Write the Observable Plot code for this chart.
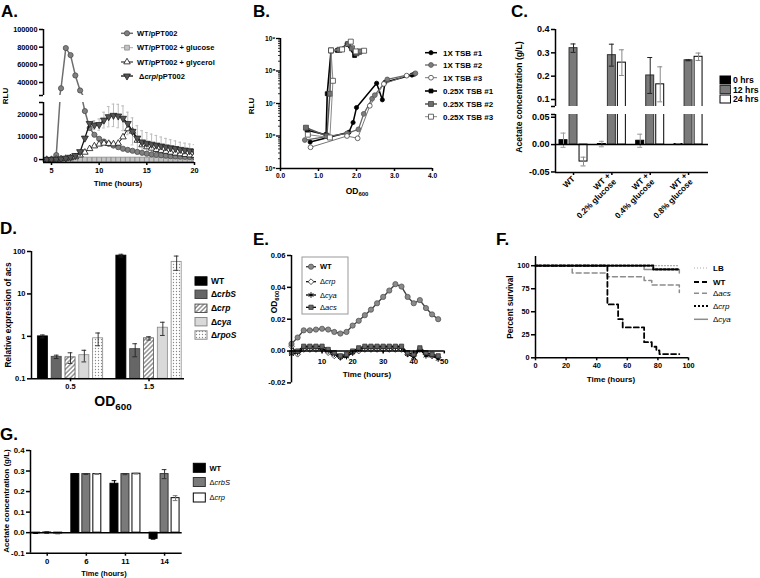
<!DOCTYPE html>
<html><head><meta charset="utf-8">
<script src="https://cdn.jsdelivr.net/npm/d3@7"></script>
<script src="https://cdn.jsdelivr.net/npm/@observablehq/plot@0.6"></script>
<style>
html,body{margin:0;padding:0;background:#fff;}
#fig{position:relative;width:760px;height:578px;overflow:hidden;background:#fff;}
</style></head>
<body><div id="fig"></div>
<script>
// ================= DATA =================
// Panel A: RLU vs time
const timeA = [4.5,5,5.5,6,6.5,7,7.5,8,8.5,9,9.5,10,10.5,11,11.5,12,12.5,13,13.5,14,14.5,15,15.5,16,16.5,17,17.5,18,18.5,19,19.5,20];
const rluWT = [0,100,2000,33500,79000,71000,48000,31000,21500,14000,11000,9200,8000,7000,6200,5500,4800,4300,3900,3400,3000,2600,2300,2100,1900,1700,1500,1400,1300,1200,1100,1000];
const rluGlucose = [0,0,0,0,0,0,0,0,0,0,0,0,0,0,0,0,0,0,0,0,0,0,0,0,0,0,0,0,0,0,0,0];
const rluGlycerol = [0,0,100,300,500,800,1200,2000,3200,4800,6000,6800,7200,7100,6900,7200,10000,13600,12500,8500,6500,5600,5000,4400,4000,3600,3200,2800,2500,2200,2000,1800];
const rluCrp = [0,0,100,300,600,1000,1800,3500,9500,16000,15300,15500,17500,19000,19600,19300,18300,16000,12500,9500,7800,7200,6800,6400,6000,5600,5200,4900,4500,4200,3900,3600];
const errCrp = [0,0,0,0,0,0,0,0,0,0,2000,2500,3500,4500,5000,5200,5500,5000,6000,5500,5000,4800,4500,4300,4000,3800,3600,3400,3200,3100,3000,3000];
const legendA = ["WT/pPT002","WT/pPT002 + glucose","WT/pPT002 + glycerol","Δcrp/pPT002"];
const ticksAx = [5,10,15,20], ticksAlow = [0,10000,20000], ticksAup = [40000,60000,80000,100000];

// Panel B: RLU vs OD600 (log)
const od1x1 = [0.78,1.80,1.91,2.00,2.53,2.68,2.75,3.46,3.52];
const rlu1x1 = [6.5e5,1.3e6,2.6e6,7.5e6,4.2e7,1.3e7,4.5e7,7.5e7,8.0e7];
const od1x2 = [0.64,1.75,2.05,2.19,2.41,2.48,2.81,3.55];
const rlu1x2 = [7.5e5,1.2e6,1.6e6,4.8e6,1.4e7,1.8e7,5.5e7,8.5e7];
const od1x3 = [0.79,1.75,2.03,2.35,2.72,3.32];
const rlu1x3 = [4.5e5,1.0e6,8.5e5,8.5e6,4.0e7,7.2e7];
const odQ1 = [0.70,1.20,1.23,1.33,1.50,1.75,1.95,2.08];
const rluQ1 = [1.5e6,1.1e6,2.0e7,4.2e8,4.3e8,6.5e8,3.0e8,3.8e8];
const odQ2 = [0.67,1.22,1.30,1.33,1.55,1.78,1.88,2.00,2.08];
const rluQ2 = [1.8e6,1.0e6,2.0e7,4.3e8,4.5e8,6.8e8,5.0e8,3.5e8,4.0e8];
const odQ3 = [0.72,1.30,1.38,1.33,1.62,1.85,1.98,2.20];
const rluQ3 = [1.1e6,9.0e5,5.0e7,4.3e8,4.6e8,8.0e8,4.0e8,4.2e8];
const legendB = ["1X TSB #1","1X TSB #2","1X TSB #3","0.25X TSB #1","0.25X TSB #2","0.25X TSB #3"];
const ticksBx = [0,1,2,3,4], ticksBy = [1e5,1e6,1e7,1e8,1e9];

// Panel C: acetate with glucose
const cConds = ["WT","WT +\n0.2% glucose","WT +\n0.4% glucose","WT +\n0.8% glucose"];
const cTimes = ["0 hrs","12 hrs","24 hrs"];
const acet0h = [0.008,0.001,0.007,0.001], err0h = [0.013,0.005,0.012,0.001];
const acet12h = [0.320,0.290,0.203,0.268], err12h = [0.018,0.047,0.077,0.002];
const acet24h = [-0.031,0.258,0.165,0.283], err24h = [0.008,0.055,0.075,0.016];
const ticksCup = [0.1,0.2,0.3,0.4], ticksClow = [-0.05,0,0.05];

// Panel D: relative expression of acs
const dOD = ["0.5","1.5"];
const dStrains = ["WT","ΔcrbS","Δcrp","Δcya","ΔrpoS"];
const exprWT = [1.0,80], errExprWT = [0.08,6];
const exprCrbS = [0.33,0.5], errExprCrbS = [0.03,0.17];
const exprCrp = [0.32,0.9], errExprCrp = [0.09,0.08];
const exprCya = [0.36,1.6], errExprCya = [0.11,0.55];
const exprRpoS = [0.9,57], errExprRpoS = [0.3,21];
const ticksDy = [0.1,1,10,100];

// Panel E: OD600 over time
const timeE = [0,2,4,6,8,10,12,14,16,18,20,22,24,26,28,30,32,34,36,38,40,42,44,46,48];
const odEWT = [0.0045,0.0085,0.013,0.013,0.0135,0.014,0.0135,0.012,0.011,0.012,0.016,0.019,0.0225,0.026,0.030,0.034,0.038,0.042,0.0405,0.034,0.030,0.032,0.027,0.023,0.020];
const odECrp = [0.003,-0.002,0.001,0.001,0.001,0.001,-0.001,-0.003,-0.004,-0.003,-0.001,0.000,0.001,0.001,0.001,0.001,0.001,0.001,0.001,-0.002,-0.003,0.001,-0.002,-0.003,-0.004];
const odECya = [-0.002,-0.001,0.002,0.002,0.002,0.0015,0.000,-0.002,-0.004,-0.0035,-0.001,0.001,0.002,0.002,0.002,0.002,0.002,0.002,0.002,-0.002,-0.004,0.001,-0.003,-0.003,-0.005];
const odEAcs = [-0.001,0.000,0.003,0.003,0.003,0.003,0.001,-0.001,-0.003,-0.002,0.000,0.002,0.003,0.003,0.003,0.003,0.003,0.003,0.003,-0.001,-0.002,0.002,-0.001,-0.002,-0.003];
const ticksEx = [10,20,30,40,50], ticksEy = [-0.02,0,0.02,0.04,0.06];

// Panel F: survival
const fTimeLB = [0,94], fSurvLB = [100,100];
const fTimeWT = [0,47,54,57,71,76,79,81,94], fSurvWT = [100,58,42,33,17,12,8,4,4];
const fTimeAcs = [0,24,47,71,76,94], fSurvAcs = [100,92,88,84,79,71];
const fTimeCrp = [0,77,94], fSurvCrp = [100,96,96];
const fTimeCya = [0,71,94], fSurvCya = [100,96,92];
const ticksFx = [0,20,40,60,80,100], ticksFy = [0,25,50,75,100];

// Panel G: acetate over time
const gTimes = ["0","6","11","14"];
const gAcetWT = [-0.003,0.285,0.238,-0.030], gErrWT = [0.001,0.002,0.015,0.002];
const gAcetCrbS = [0.001,0.285,0.285,0.285], gErrCrbS = [0.004,0.002,0.003,0.022];
const gAcetCrp = [-0.004,0.285,0.287,0.168], gErrCrp = [0.002,0.002,0.002,0.012];
const ticksGy = [-0.1,0,0.1,0.2,0.3,0.4];

// ================= HELPERS =================
const FONT = '"Liberation Sans", Arial, Helvetica, sans-serif';
const fig = document.getElementById("fig");
const BLK = "#000";

function mk({x0, x1, y0, y1, fs = 7.5, x, y, marks}) {
  const m = 60;
  const svg = Plot.plot({
    width: x1 - x0 + 2 * m, height: y1 - y0 + 2 * m,
    marginLeft: m, marginRight: m, marginTop: m, marginBottom: m,
    x: Object.assign({axis: null}, x), y: Object.assign({axis: null}, y),
    style: {fontFamily: FONT, fontSize: fs + "px", fontWeight: "bold", background: "transparent", overflow: "visible", color: "#000"},
    marks
  });
  svg.style.position = "absolute";
  svg.style.left = (x0 - m) + "px";
  svg.style.top = (y0 - m) + "px";
  fig.appendChild(svg);
  return svg;
}
const rowsOf = (xs, ys, es) => xs.map((x, i) => ({x, y: ys[i], e: es ? es[i] : 0}));
function errBars(rows, xf, {stroke = "#000", cap = 0.1, sw = 1, clip = false} = {}) {
  const r = rows.filter(d => d.e > 0);
  return [
    Plot.ruleX(r, {x: xf, y1: d => d.y - d.e, y2: d => d.y + d.e, stroke, strokeWidth: sw, clip}),
    Plot.ruleY(r, {y: d => d.y + d.e, x1: d => xf(d) - cap, x2: d => xf(d) + cap, stroke, strokeWidth: sw, clip}),
    Plot.ruleY(r, {y: d => d.y - d.e, x1: d => xf(d) - cap, x2: d => xf(d) + cap, stroke, strokeWidth: sw, clip})
  ];
}
function lineDots(series, clip = false, curve = "linear") {
  const out = [];
  for (const s of series) {
    out.push(Plot.line(s.rows, {x: "x", y: "y", stroke: s.line, strokeWidth: s.lw, clip, curve}));
    if (s.sym) out.push(Plot.dot(s.rows, {x: "x", y: "y", symbol: s.sym, r: s.r, fill: s.fill, stroke: s.stroke, strokeWidth: s.sw || 0.8, clip}));
  }
  return out;
}
const triDown = {draw(c, size) { const y = -Math.sqrt(size / (Math.sqrt(3) * 3)); c.moveTo(0, -2 * y); c.lineTo(-Math.sqrt(3) * y, y); c.lineTo(Math.sqrt(3) * y, y); c.closePath(); }};
const axisLine = v => Plot.ruleX([v], {stroke: BLK, strokeWidth: 1.5});
const baseLine = v => Plot.ruleY([v], {stroke: BLK, strokeWidth: 1.5});

// ================= PANEL A =================
const sA = [
  {rows: rowsOf(timeA, rluGlucose), line: "#aaa", lw: 1, sym: "square", r: 2.7, fill: "#c4c4c4", stroke: "#8a8a8a"},
  {rows: rowsOf(timeA, rluWT), line: "#6e6e6e", lw: 1.5, sym: "circle", r: 2.6, fill: "#808080", stroke: "#4d4d4d"},
  {rows: rowsOf(timeA, rluGlycerol), line: "#111", lw: 1, sym: "triangle", r: 2.4, fill: "#fff", stroke: "#111"},
  {rows: rowsOf(timeA, rluCrp, errCrp), line: "#111", lw: 1.3, sym: triDown, r: 2.6, fill: "#555", stroke: "#222"}
];
const xA = {domain: [4.16, 20]};
mk({x0: 43, x1: 194, y0: 102, y1: 162, fs: 7.3, x: xA, y: {domain: [-1300, 25300]}, marks: [
  ...errBars(sA[3].rows, d => d.x, {stroke: "#bdbdbd", cap: 0.14, sw: 1, clip: true}),
  ...lineDots(sA, true),
  axisLine(4.16), baseLine(-1300),
  Plot.axisX({ticks: ticksAx, tickSize: 3, tickPadding: 2, strokeWidth: 1.5, label: null}),
  Plot.axisY({ticks: ticksAlow, tickSize: 4, tickPadding: 2, strokeWidth: 1.5, tickFormat: d => String(d), label: null}),
  Plot.axisY({ticks: [25300], tickSize: 4, strokeWidth: 1.5, tickFormat: () => "", label: null})
]});
mk({x0: 43, x1: 194, y0: 29, y1: 95, fs: 7.3, x: xA, y: {domain: [25300, 100000]}, marks: [
  ...lineDots([sA[1]], true),
  axisLine(4.16),
  Plot.axisY({ticks: ticksAup, tickSize: 4, tickPadding: 2, strokeWidth: 1.5, tickFormat: d => String(d), label: null}),
  Plot.axisY({ticks: [25300], tickSize: 4, strokeWidth: 1.5, tickFormat: () => "", label: null})
]});

// ================= PANEL B =================
const sB = [
  {rows: rowsOf(od1x1, rlu1x1), line: "#000", lw: 1.5, sym: "circle", r: 2.1, fill: "#000", stroke: "#000"},
  {rows: rowsOf(od1x2, rlu1x2), line: "#666", lw: 1.3, sym: "circle", r: 2.4, fill: "#7d7d7d", stroke: "#555"},
  {rows: rowsOf(od1x3, rlu1x3), line: "#777", lw: 1, sym: "circle", r: 2.4, fill: "#fff", stroke: "#444"},
  {rows: rowsOf(odQ1, rluQ1), line: "#000", lw: 1.6, sym: "square", r: 2.2, fill: "#000", stroke: "#000"},
  {rows: rowsOf(odQ2, rluQ2), line: "#555", lw: 1.5, sym: "square", r: 2.8, fill: "#6e6e6e", stroke: "#444"},
  {rows: rowsOf(odQ3, rluQ3), line: "#888", lw: 1, sym: "square", r: 2.8, fill: "#fff", stroke: "#444"}
];
const sup = {5: "⁵", 6: "⁶", 7: "⁷", 8: "⁸", 9: "⁹"};
const minorB = [];
for (let k = 5; k < 9; k++) for (let m = 2; m < 10; m++) minorB.push(m * Math.pow(10, k));
mk({x0: 280, x1: 432, y0: 38, y1: 168, fs: 6.6, x: {domain: [0, 4]}, y: {type: "log", domain: [1e5, 1e9]}, marks: [
  ...lineDots(sB, true),
  axisLine(0), baseLine(1e5),
  Plot.axisX({ticks: ticksBx, tickSize: 3, tickPadding: 2, strokeWidth: 1.5, label: null}),
  Plot.axisY({ticks: ticksBy, tickSize: 4, tickPadding: 1, strokeWidth: 1.3, tickFormat: d => "10" + sup[Math.round(Math.log10(d))], label: null}),
  Plot.axisY({ticks: minorB, tickSize: 2, strokeWidth: 0.8, tickFormat: () => "", label: null})
]});

// ================= PANEL C =================
const cVals = [acet0h, acet12h, acet24h], cErrs = [err0h, err12h, err24h];
const cFill = ["#000", "#7a7a7a", "#fff"], cStroke = ["#000", "#333", "#000"], cErrStroke = ["#999", "#222", "#888"];
const cRows = cTimes.map((t, s) => cConds.map((c, g) => ({g, s, y: cVals[s][g], e: cErrs[s][g]})));
const cx = d => d.g + (d.s - 1) * 0.261, cHW = 0.104;
const cBars = clip => cRows.flatMap((rows, s) => [
  Plot.rect(rows, {x1: d => cx(d) - cHW, x2: d => cx(d) + cHW, y1: () => 0, y2: "y", fill: cFill[s], stroke: cStroke[s], strokeWidth: 1, clip}),
  ...errBars(rows, cx, {stroke: cErrStroke[s], cap: 0.065, sw: 1, clip})
]);
const xC = {domain: [-0.47, 3.52]};
mk({x0: 555, x1: 708, y0: 29, y1: 106, fs: 9, x: xC, y: {domain: [0.07, 0.4]}, marks: [
  ...cBars(true),
  axisLine(-0.47),
  Plot.axisY({ticks: ticksCup, tickSize: 4, tickPadding: 2, strokeWidth: 1.5, tickFormat: d => d.toFixed(1), label: null}),
  Plot.axisY({ticks: [0.07], tickSize: 4, strokeWidth: 1.5, tickFormat: () => "", label: null})
]});
mk({x0: 555, x1: 708, y0: 114, y1: 172, fs: 9, x: xC, y: {domain: [-0.051, 0.055]}, marks: [
  ...cBars(true),
  axisLine(-0.47), baseLine(0), baseLine(-0.051),
  Plot.axisY({ticks: ticksClow, tickSize: 4, tickPadding: 2, strokeWidth: 1.5, tickFormat: d => d.toFixed(2), label: null}),
  Plot.axisY({ticks: [0.055], tickSize: 4, strokeWidth: 1.5, tickFormat: () => "", label: null}),
  Plot.axisX({ticks: [0, 1, 2, 3], tickSize: 3, tickPadding: 2, strokeWidth: 1.5, tickRotate: -45, fontSize: 8.2, tickFormat: i => cConds[i], label: null})
]});

// ================= PANEL D =================
const dVals = [exprWT, exprCrbS, exprCrp, exprCya, exprRpoS], dErrs = [errExprWT, errExprCrbS, errExprCrp, errExprCya, errExprRpoS];
const dFill = ["#000", "#666", "url(#hatch)", "#d9d9d9", "url(#dots)"], dStroke = ["#000", "#444", "#555", "#888", "#888"];
const dRows = dStrains.map((n, s) => dOD.map((o, g) => ({g, s, y: dVals[s][g], e: dErrs[s][g]})));
const dx = d => d.g + (d.s - 2) * 0.176, dHW = 0.064;
mk({x0: 31, x1: 184, y0: 250.7, y1: 378, fs: 7.5, x: {domain: [-0.497, 1.452]}, y: {type: "log", domain: [0.1, 100]}, marks: [
  ...dRows.flatMap((rows, s) => [
    Plot.rect(rows, {x1: d => dx(d) - dHW, x2: d => dx(d) + dHW, y1: () => 0.1, y2: "y", fill: dFill[s], stroke: dStroke[s], strokeWidth: 0.8}),
    ...errBars(rows, dx, {stroke: "#222", cap: 0.03, sw: 0.9})
  ]),
  axisLine(-0.497), baseLine(0.1),
  Plot.axisX({ticks: [0, 1], tickSize: 3, tickPadding: 2, strokeWidth: 1.5, tickFormat: i => dOD[i], label: null}),
  Plot.axisY({ticks: ticksDy, tickSize: 4, tickPadding: 2, strokeWidth: 1.5, tickFormat: d => String(d), label: null})
]});

// ================= PANEL E =================
const sE = [
  {rows: rowsOf(timeE, odECrp), line: "#000", lw: 1.2, sym: "diamond2", r: 2.6, fill: "#fff", stroke: "#222"},
  {rows: rowsOf(timeE, odECya), line: "#000", lw: 1.3, sym: "asterisk", r: 2.6, fill: "none", stroke: "#000", sw: 1},
  {rows: rowsOf(timeE, odEAcs), line: "#000", lw: 1.3, sym: "square", r: 2.4, fill: "#666", stroke: "#333"},
  {rows: rowsOf(timeE, odEWT), line: "#444", lw: 1.4, sym: "circle", r: 2.6, fill: "#8a8a8a", stroke: "#555"}
];
mk({x0: 290.5, x1: 443.3, y0: 255.3, y1: 382.7, fs: 7.6, x: {domain: [0, 50]}, y: {domain: [-0.02, 0.06]}, marks: [
  ...lineDots(sE),
  axisLine(0), baseLine(0),
  Plot.ruleX(ticksEx, {x: d => d, y1: () => 0, y2: () => -0.0018, stroke: BLK, strokeWidth: 1.5}),
  Plot.text(ticksEx, {x: d => d, y: () => 0, dy: 10.5, text: d => String(d)}),
  Plot.axisY({ticks: ticksEy, tickSize: 4, tickPadding: 2, strokeWidth: 1.5, tickFormat: d => d.toFixed(2), label: null})
]});

// ================= PANEL F =================
const sF = [
  {rows: rowsOf(fTimeLB, fSurvLB), line: "#aaa", lw: 1.2, dash: "1,2"},
  {rows: rowsOf(fTimeCya, fSurvCya), line: "#8c8c8c", lw: 1.5, dash: null},
  {rows: rowsOf(fTimeAcs, fSurvAcs), line: "#8c8c8c", lw: 1.5, dash: "5,3"},
  {rows: rowsOf(fTimeWT, fSurvWT), line: "#000", lw: 1.8, dash: "5,3"},
  {rows: rowsOf(fTimeCrp, fSurvCrp), line: "#000", lw: 2.2, dash: "2,2"}
];
mk({x0: 535, x1: 688, y0: 256, y1: 357.3, fs: 7.3, x: {domain: [0, 100]}, y: {domain: [0, 110]}, marks: [
  ...sF.map(s => Plot.line(s.rows, {x: "x", y: "y", curve: "step-after", stroke: s.line, strokeWidth: s.lw, strokeDasharray: s.dash})),
  axisLine(0), baseLine(0),
  Plot.axisX({ticks: ticksFx, tickSize: 3, tickPadding: 2, strokeWidth: 1.5, label: null}),
  Plot.axisY({ticks: ticksFy, tickSize: 4, tickPadding: 2, strokeWidth: 1.5, label: null})
]});

// ================= PANEL G =================
const gVals = [gAcetWT, gAcetCrbS, gAcetCrp], gErrs = [gErrWT, gErrCrbS, gErrCrp];
const gFill = ["#000", "#7a7a7a", "#fff"], gStroke = ["#000", "#333", "#000"], gErrStroke = ["#000", "#333", "#777"];
const gRows = gVals.map((v, s) => gTimes.map((t, g) => ({g, s, y: v[g], e: gErrs[s][g]})));
const gx = d => d.g + (d.s - 1) * 0.281, gHW = 0.102;
mk({x0: 30, x1: 181.7, y0: 450, y1: 552.7, fs: 7.8, x: {domain: [-0.427, 3.45]}, y: {domain: [-0.1, 0.4]}, marks: [
  ...gRows.flatMap((rows, s) => [
    Plot.rect(rows, {x1: d => gx(d) - gHW, x2: d => gx(d) + gHW, y1: () => 0, y2: "y", fill: gFill[s], stroke: gStroke[s], strokeWidth: 1}),
    ...errBars(rows, gx, {stroke: gErrStroke[s], cap: 0.06, sw: 1})
  ]),
  axisLine(-0.427), baseLine(0), baseLine(-0.1),
  Plot.axisX({ticks: [0, 1, 2, 3], tickSize: 3, tickPadding: 2, strokeWidth: 1.5, tickFormat: i => gTimes[i], label: null}),
  Plot.axisY({ticks: ticksGy, tickSize: 4, tickPadding: 2, strokeWidth: 1.5, tickFormat: d => d.toFixed(1), label: null})
]});

// ================= OVERLAY: letters, titles, legends =================
const ov = d3.select(fig).append("svg").attr("width", 760).attr("height", 578)
  .style("position", "absolute").style("left", "0px").style("top", "0px")
  .attr("font-family", FONT);
const defs = ov.append("defs");
const ph = defs.append("pattern").attr("id", "hatch").attr("patternUnits", "userSpaceOnUse").attr("width", 3.2).attr("height", 3.2).attr("patternTransform", "rotate(45)");
ph.append("rect").attr("width", 3.2).attr("height", 3.2).attr("fill", "#fff");
ph.append("line").attr("x1", 0.8).attr("y1", 0).attr("x2", 0.8).attr("y2", 3.2).attr("stroke", "#777").attr("stroke-width", 1.2);
const pd = defs.append("pattern").attr("id", "dots").attr("patternUnits", "userSpaceOnUse").attr("width", 3).attr("height", 3);
pd.append("rect").attr("width", 3).attr("height", 3).attr("fill", "#fff");
pd.append("circle").attr("cx", 1.5).attr("cy", 1.5).attr("r", 0.65).attr("fill", "#888");

function T(x, y, parts, o = {}) {
  const fs = o.fs || 8;
  const t = ov.append("text").attr("x", x).attr("y", y + 0.36 * fs)
    .attr("font-size", fs).attr("font-weight", o.weight || "bold").attr("text-anchor", o.anchor || "start").attr("fill", "#000");
  if (o.rot) t.attr("transform", `rotate(${o.rot},${x},${y})`);
  for (const p of [].concat(parts)) {
    const obj = typeof p === "object" ? p : {t: p};
    const s = t.append("tspan").text(obj.t);
    if (obj.i) s.attr("font-style", "italic");
    if (obj.w) s.attr("font-weight", obj.w);
    if (obj.sub) s.attr("font-size", fs * 0.7).attr("dy", fs * 0.28);
  }
}
function L(x, yBase, s) { ov.append("text").attr("x", x).attr("y", yBase).attr("font-size", 17).attr("font-weight", "bold").text(s); }
function seg(x1, x2, y, stroke, sw, dash) { const l = ov.append("line").attr("x1", x1).attr("x2", x2).attr("y1", y).attr("y2", y).attr("stroke", stroke).attr("stroke-width", sw); if (dash) l.attr("stroke-dasharray", dash); }
const symMap = {circle: d3.symbolCircle, square: d3.symbolSquare, triangle: d3.symbolTriangle, diamond2: d3.symbolDiamond2, asterisk: d3.symbolAsterisk};
function sym(x, y, s) { const type = typeof s.sym === "string" ? symMap[s.sym] : s.sym; ov.append("path").attr("transform", `translate(${x},${y})`).attr("d", d3.symbol(type, Math.PI * s.r * s.r)()).attr("fill", s.fill).attr("stroke", s.stroke).attr("stroke-width", s.sw || 0.8); }
function box(x, y, w, h, fill, stroke) { ov.append("rect").attr("x", x).attr("y", y).attr("width", w).attr("height", h).attr("fill", fill).attr("stroke", stroke).attr("stroke-width", 1); }

// Letters
L(1, 16.8, "A."); L(253, 16.8, "B."); L(511, 16.8, "C.");
L(0, 234, "D."); L(253, 244.5, "E."); L(496, 244.5, "F."); L(0, 440, "G.");

// Panel A titles + legend
T(118, 183, "Time (hours)", {fs: 8, anchor: "middle"});
T(5, 96, "RLU", {fs: 8, anchor: "middle", rot: -90});
const legARows = [33.3, 47.7, 62, 76];
const legAParts = [[legendA[0]], [legendA[1]], [legendA[2]], ["Δ", {t: "crp", i: 1}, "/pPT002"]];
const legAOrder = [1, 0, 2, 3];
legARows.forEach((y, i) => { const s = sA[legAOrder[i]]; seg(121, 133, y, s.line, s.lw); sym(127, y, s); T(i === 3 ? 139 : 137, y, legAParts[i], {fs: 7.5}); });

// Panel B titles + legend
T(251, 106, "RLU", {fs: 8, anchor: "middle", rot: -90});
T(357, 191, ["OD", {t: "600", sub: 1}], {fs: 8.5, anchor: "middle"});
const legBRows = [52.7, 65, 77.7, 91, 104, 116.7];
legBRows.forEach((y, i) => { const s = sB[i]; seg(425, 437, y, s.line, s.lw); sym(431, y, s); T(443, y, legendB[i], {fs: 8}); });

// Panel C titles + legend
T(519, 97, "Acetate concentration (g/L)", {fs: 8.6, anchor: "middle", rot: -90});
[80, 89.5, 99].forEach((y, i) => { box(720, y - 4, 10.5, 8, cFill[i], cStroke[i]); T(733, y, cTimes[i], {fs: 8.7}); });

// Panel D titles + legend
T(8, 315, "Relative expression of acs", {fs: 8.4, anchor: "middle", rot: -90});
T(113, 401, ["OD", {t: "600", sub: 1}], {fs: 14, anchor: "middle"});
const legDParts = [["WT"], ["Δ", {t: "crbS", i: 1}], ["Δ", {t: "crp", i: 1}], ["Δ", {t: "cya", i: 1}], ["Δ", {t: "rpoS", i: 1}]];
[281, 294.3, 308.3, 321.7, 335].forEach((y, i) => { box(195, y - 4.2, 12, 8.4, dFill[i], dStroke[i]); T(211, y, legDParts[i], {fs: 8.5}); });

// Panel E titles + legend
T(274, 302, ["OD", {t: "600", sub: 1}], {fs: 8.4, anchor: "middle", rot: -90});
T(367, 374, "Time (hours)", {fs: 8, anchor: "middle"});
box(302, 257, 46, 57, "none", "#999");
const legEParts = [["WT"], ["Δ", {t: "crp", i: 1, w: "normal"}], ["Δ", {t: "cya", i: 1, w: "normal"}], ["Δ", {t: "acs", i: 1, w: "normal"}]];
const legEOrder = [3, 0, 1, 2];
[266.7, 281.7, 295, 307.3].forEach((y, i) => { const s = sE[legEOrder[i]]; seg(306, 316, y, s.line, s.lw); sym(311, y, s); T(320, y, legEParts[i], {fs: 7.5, weight: i === 0 ? "bold" : "normal"}); });

// Panel F titles + legend
T(510, 307, "Percent survival", {fs: 8.2, anchor: "middle", rot: -90});
T(611, 379, "Time (hours)", {fs: 8, anchor: "middle"});
const legFParts = [["LB"], ["WT"], ["Δ", {t: "acs", i: 1}], ["Δ", {t: "crp", i: 1}], ["Δ", {t: "cya", i: 1}]];
const legFOrder = [0, 3, 2, 4, 1];
[268, 282, 293.3, 306, 319.3].forEach((y, i) => { const s = sF[legFOrder[i]]; seg(694, 708, y, s.line, s.lw, s.dash); T(713, y, legFParts[i], {fs: 8, weight: i < 2 ? "bold" : "normal"}); });

// Panel G titles + legend
T(6, 501, "Acetate concentration (g/L)", {fs: 8, anchor: "middle", rot: -90});
T(104, 573.5, "Time (hours)", {fs: 7.5, anchor: "middle"});
const legGParts = [["WT"], ["Δ", {t: "crbS", i: 1}], ["Δ", {t: "crp", i: 1}]];
[467.8, 482, 497.5].forEach((y, i) => { box(193.3, y - 4.5, 12, 9, gFill[i], gStroke[i]); T(209.5, y, legGParts[i], {fs: 7.5, weight: i === 0 ? "bold" : "normal"}); });
</script></body></html>
